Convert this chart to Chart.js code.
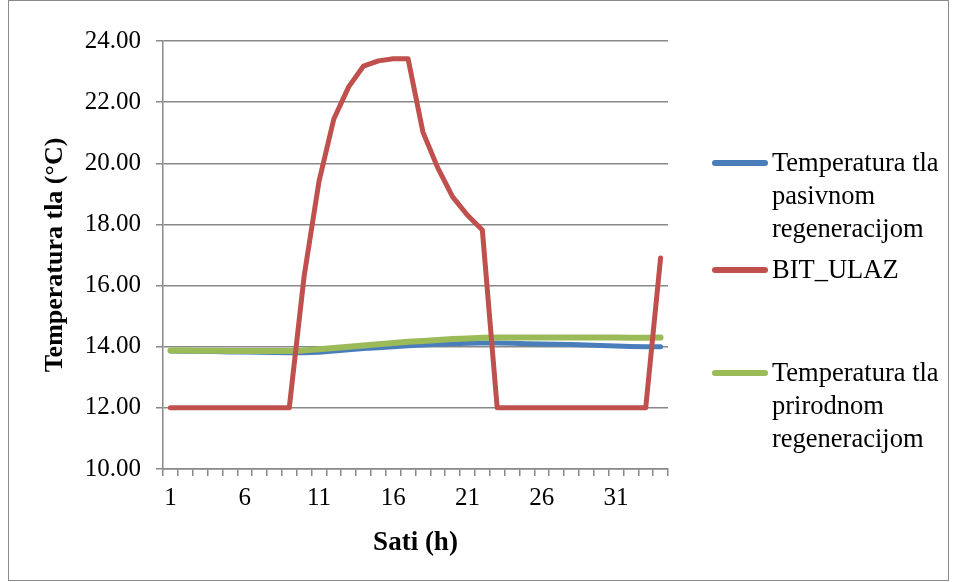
<!DOCTYPE html>
<html>
<head>
<meta charset="utf-8">
<script src="https://cdn.jsdelivr.net/npm/chart.js@4"></script>
<style>
  html, body { margin: 0; padding: 0; background: #fff; }
  #wrap { position: relative; width: 955px; height: 582px; overflow: hidden; }
  #frame { position: absolute; left: 8px; top: 0; width: 939px; height: 579px; border: 1px solid #8a8a8a; }
  #box { position: absolute; left: 0; top: 0; width: 955px; height: 582px; }
  .leg { position: absolute; left: 712px; font-family: "Liberation Serif", "Times New Roman", serif; font-size: 26.5px; color: #000; }
  .leg .ln { position: absolute; left: 0; width: 56px; height: 6px; border-radius: 3px; }
  .leg .tx { position: absolute; left: 60px; line-height: 33px; white-space: nowrap; }
</style>
</head>
<body>
<div id="wrap">
  <div id="frame"></div>
  <div id="box"><canvas id="chart"></canvas></div>
  <div id="legend"></div>
</div>
<script>
// hours on x axis
const hours = Array.from({ length: 34 }, (_, i) => String(i + 1));

// series values
const pasivnom = [13.86, 13.85, 13.85, 13.84, 13.83, 13.83, 13.82, 13.81, 13.80, 13.80,
  13.82, 13.86, 13.90, 13.94, 13.97, 14.00, 14.03, 14.06, 14.08, 14.10,
  14.11, 14.12, 14.12, 14.11, 14.10, 14.09, 14.08, 14.07, 14.06, 14.04,
  14.02, 14.01, 14.00, 14.00];
const bitUlaz = [12, 12, 12, 12, 12, 12, 12, 12, 12, 16.3,
  19.4, 21.45, 22.5, 23.18, 23.35, 23.42, 23.42, 21.02, 19.85, 18.9,
  18.3, 17.82, 12, 12, 12, 12, 12, 12, 12, 12,
  12, 12, 12, 16.9];
const prirodnom = [13.88, 13.88, 13.87, 13.87, 13.86, 13.86, 13.86, 13.86, 13.86, 13.88,
  13.92, 13.96, 14.00, 14.04, 14.08, 14.12, 14.16, 14.19, 14.22, 14.25,
  14.27, 14.29, 14.30, 14.30, 14.30, 14.30, 14.30, 14.30, 14.30, 14.30,
  14.30, 14.29, 14.29, 14.30];

const seriesNames = [["Temperatura tla", "pasivnom", "regeneracijom"], ["BIT_ULAZ"], ["Temperatura tla", "prirodnom", "regeneracijom"]];
const seriesColors = ["#4A7EBB", "#C0504D", "#9BBB59"];

const serif = "'Liberation Serif', 'Times New Roman', serif";
const gridGray = "#888888";

const ctx = document.getElementById("chart");

new Chart(ctx, {
  type: "line",
  data: {
    labels: hours,
    datasets: [
      { label: seriesNames[0].join(" "), data: pasivnom, borderColor: seriesColors[0], borderWidth: 5, order: 2 },
      { label: seriesNames[1].join(" "), data: bitUlaz, borderColor: seriesColors[1], borderWidth: 5, order: 0 },
      { label: seriesNames[2].join(" "), data: prirodnom, borderColor: seriesColors[2], borderWidth: 6, order: 1 },
    ],
  },
  options: {
    responsive: true,
    maintainAspectRatio: false,
    animation: false,
    elements: {
      point: { radius: 0 },
      line: { tension: 0, borderCapStyle: "round", borderJoinStyle: "round" },
    },
    layout: { padding: { left: 30, top: 41, right: 287, bottom: 22 } },
    plugins: { legend: { display: false }, tooltip: { enabled: false } },
    scales: {
      x: {
        offset: true,
        grid: { drawOnChartArea: false, drawTicks: true, tickLength: 7, color: gridGray, lineWidth: 1.5, offset: true },
        border: { color: gridGray, width: 1.5 },
        ticks: {
          autoSkip: false,
          maxRotation: 0,
          color: "#000",
          padding: 7,
          font: { family: serif, size: 25 },
          callback: function (value, index) {
            return index % 5 === 0 ? hours[index] : "";
          },
        },
        title: {
          display: true,
          text: "Sati (h)",
          color: "#000",
          font: { family: serif, size: 27, weight: "bold" },
          padding: { top: 4, bottom: 1 },
        },
        afterFit: function (scale) {
          scale.height = 582 - 469 - 22;
        },
      },
      y: {
        min: 10,
        max: 24,
        grid: { color: gridGray, lineWidth: 1.5, tickLength: 7 },
        border: { color: gridGray, width: 1.5 },
        ticks: {
          stepSize: 2,
          color: "#000",
          padding: 15,
          font: { family: serif, size: 25 },
          callback: function (value) {
            return value.toFixed(2);
          },
        },
        title: {
          display: true,
          text: "Temperatura tla (°C)",
          color: "#000",
          font: { family: serif, size: 26, weight: "bold" },
          padding: { top: 10, bottom: 0 },
        },
        afterFit: function (scale) {
          scale.width = 163 - 30;
        },
      },
    },
  },
});

// html legend with wrapped labels
const legendTops = [146, 253, 356];
const legend = document.getElementById("legend");
seriesNames.forEach((lines, i) => {
  const item = document.createElement("div");
  item.className = "leg";
  item.style.top = legendTops[i] + "px";
  const ln = document.createElement("div");
  ln.className = "ln";
  ln.style.top = "14px";
  ln.style.background = seriesColors[i];
  const tx = document.createElement("div");
  tx.className = "tx";
  tx.innerHTML = lines.join("<br>");
  item.appendChild(ln);
  item.appendChild(tx);
  legend.appendChild(item);
});
</script>
</body>
</html>
